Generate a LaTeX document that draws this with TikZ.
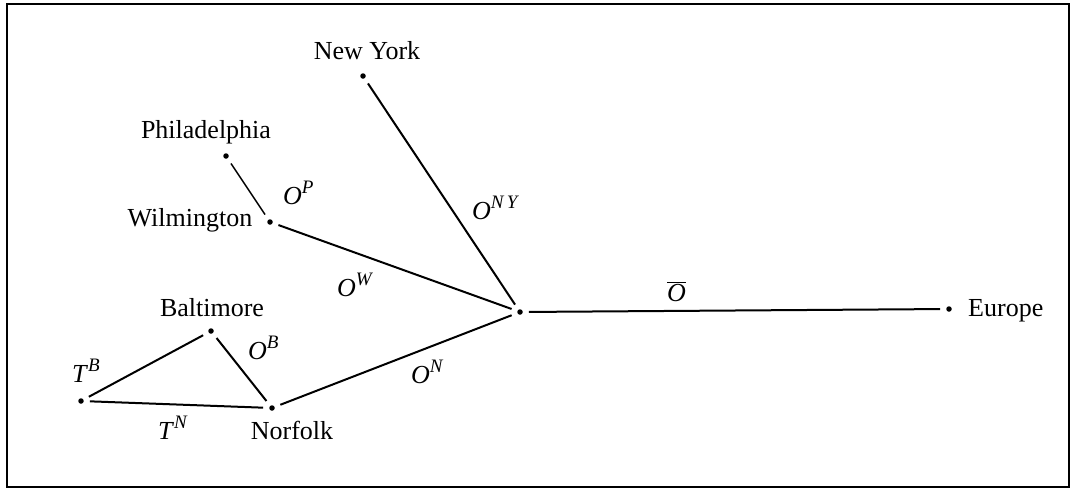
\documentclass[tikz,border=0pt]{standalone}
\usepackage{fontspec}
\setmainfont{Liberation Serif}
\newcommand\supit[1]{\raisebox{0.42em}{\fontsize{19}{19}\selectfont\itshape #1}}
\begin{document}
\begin{tikzpicture}[x=1pt,y=-1pt, font=\fontsize{26}{29}\selectfont,
  dot/.style={circle,fill=black,inner sep=0pt,minimum size=5.5pt},
  lbl/.style={anchor=base,inner sep=0pt},
  sym/.style={anchor=base west,inner sep=0pt},
  edge/.style={line width=2pt,shorten <=6pt,shorten >=6pt}]
\useasboundingbox (0,0) rectangle (1071,493);
\draw[line width=2.4pt] (7,4) rectangle (1069,487);
% dots
\node[dot] (ny) at (363,76) {};
\node[dot] (phil) at (226,156) {};
\node[dot] (wil) at (270,222) {};
\node[dot] (hub) at (520,312) {};
\node[dot] (eu) at (949,309) {};
\node[dot] (bal) at (211,331) {};
\node[dot] (tb) at (81,401) {};
\node[dot] (nor) at (272,408) {};
% place names
\node[lbl] (nyt) at (367,59) {New York};
\node[lbl] (philt) at (206,138) {Philadelphia};
\node[lbl] (wilt) at (190,226) {Wilmington};
\node[lbl] (balt) at (212,316) {Baltimore};
\node[lbl] (nort) at (292,439) {Norfolk};
\node[sym] (eut) at (968,316) {Europe};
% edge labels
\node[sym] (op) at (283,204) {\textit{O}\supit{P}};
\node[sym] (ony) at (472,219) {\textit{O}\supit{N\,Y}};
\node[sym] (ow) at (337,296) {\textit{O}\supit{W}};
\node[sym] (obar) at (667,301) {$\overline{\mbox{\itshape O}}$};
\node[sym] (ob) at (248,359) {\textit{O}\supit{B}};
\node[sym] (on) at (411,383) {\textit{O}\supit{N}};
\node[sym] (tbl) at (72,382) {\textit{T}\supit{B}};
\node[sym] (tnl) at (158,439) {\textit{T}\supit{N}};
% connectors
\draw[edge] (ny) -- (hub);
\draw[edge,line width=1.5pt] (phil) -- (wil);
\draw[edge] (wil) -- (hub);
\draw[edge] (nor) -- (hub);
\draw[edge] (hub) -- (eu);
\draw[edge] (tb) -- (bal);
\draw[edge] (bal) -- (nor);
\draw[edge] (tb) -- (nor);
\end{tikzpicture}
\end{document}
